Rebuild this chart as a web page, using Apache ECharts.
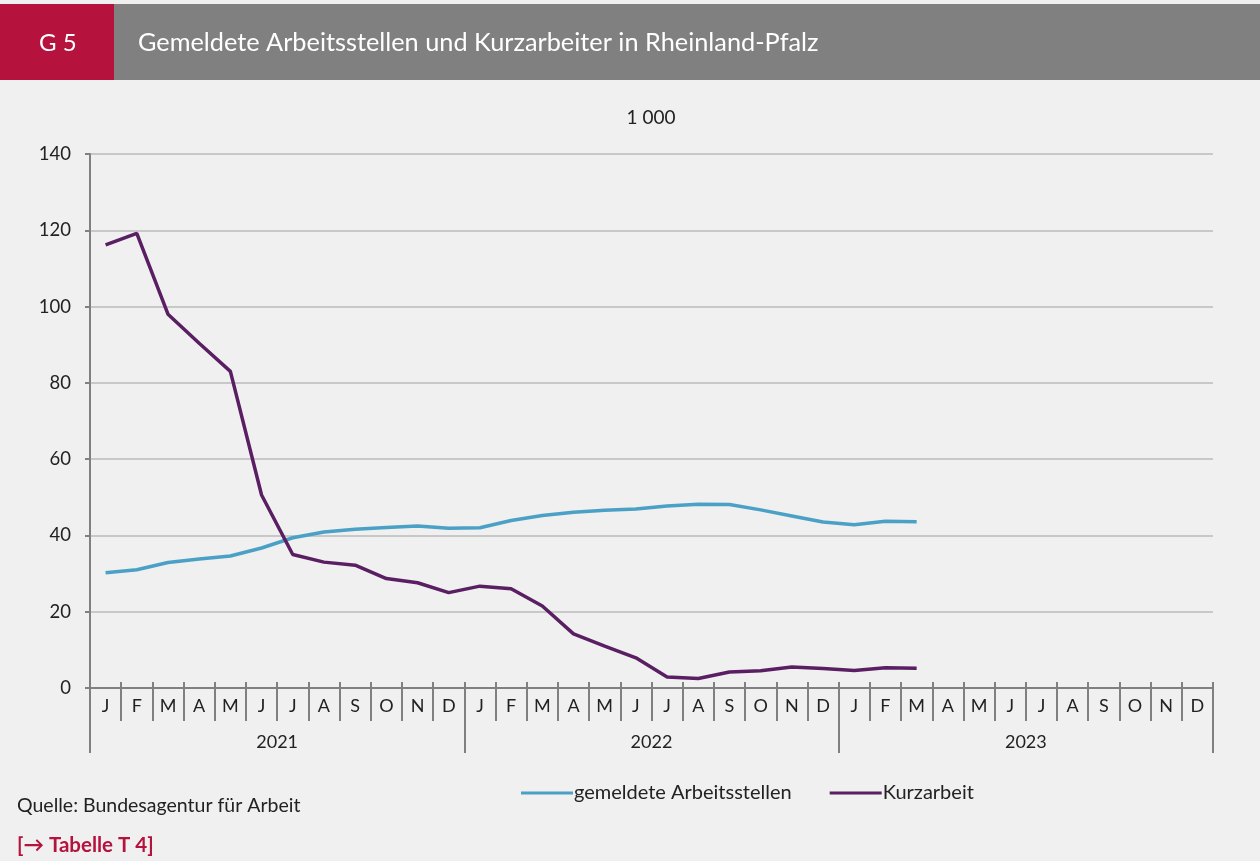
<!DOCTYPE html>
<html>
<head>
<meta charset="utf-8">
<script src="https://cdn.jsdelivr.net/npm/echarts@6/dist/echarts.min.js"></script>
<style>
html,body{margin:0;padding:0;background:#eff0ef;}
#c{width:1260px;height:861px;}
</style>
</head>
<body>
<div id="c"></div>
<script>
const months = ['J','F','M','A','M','J','J','A','S','O','N','D',
                'J','F','M','A','M','J','J','A','S','O','N','D',
                'J','F','M','A','M','J','J','A','S','O','N','D'];
const years = ['2021','2022','2023'];
const arbeitsstellen = [30.2,31.0,32.9,33.8,34.6,36.7,39.4,40.9,41.6,42.1,42.5,41.9,
                        42.0,43.9,45.2,46.1,46.6,46.9,47.7,48.2,48.1,46.7,45.1,43.5,
                        42.8,43.7,43.6];
const kurzarbeit = [116.2,119.2,98.0,90.4,83.0,50.6,35.0,33.0,32.2,28.7,27.6,25.0,
                    26.7,26.0,21.5,14.2,11.0,7.9,2.9,2.5,4.2,4.5,5.5,5.1,
                    4.6,5.3,5.2];
const yTicks = {min:0, max:140, interval:20};

const chart = echarts.init(document.getElementById('c'));
const font = 'Lato';
const axisGray = '#808080';
chart.setOption({
  backgroundColor:'#eff0ef',
  textStyle:{fontFamily:font},
  animation:false,
  graphic:[
    {type:'rect', shape:{x:0,y:4,width:114,height:76}, style:{fill:'#b5123e'}},
    {type:'rect', shape:{x:114,y:4,width:1146,height:76}, style:{fill:'#808080'}},
    {type:'text', x:39, y:43, style:{text:'G 5', fill:'#fff', font:'24px Lato', verticalAlign:'middle'}},
    {type:'text', x:138, y:43, style:{text:'Gemeldete Arbeitsstellen und Kurzarbeiter in Rheinland-Pfalz', fill:'#fff', font:'25.3px Lato', verticalAlign:'middle'}},
    {type:'text', x:651, y:118, style:{text:'1 000', fill:'#222', font:'19px Lato', align:'center', verticalAlign:'middle'}},
    {type:'text', x:17, y:806, style:{text:'Quelle: Bundesagentur für Arbeit', fill:'#222', font:'19.5px Lato', verticalAlign:'middle'}},
    {type:'text', x:17, y:845, style:{text:'[→ Tabelle T 4]', fill:'#b5123e', font:'bold 20.5px Lato', verticalAlign:'middle'}}
  ],
  legend:{
    left:516, top:778, itemWidth:52, itemHeight:3, itemGap:38, icon:'rect',
    textStyle:{fontSize:20, color:'#222', fontFamily:font, padding:[0,0,0,-4]},
    data:['gemeldete Arbeitsstellen','Kurzarbeit']
  },
  grid:{left:90, right:47, top:154, bottom:173},
  xAxis:[
    {type:'category', data:months, boundaryGap:true, position:'bottom',
     axisLine:{show:true, lineStyle:{color:axisGray, width:2}},
     axisTick:{show:true, interval:0, length:33, lineStyle:{color:axisGray, width:2}},
     axisLabel:{interval:0, fontSize:18, color:'#222', margin:9, fontFamily:font}},
    {type:'category', data:months, boundaryGap:true, position:'bottom',
     axisLine:{show:false},
     axisTick:{show:true, inside:true, interval:0, length:6, lineStyle:{color:axisGray, width:2}},
     axisLabel:{show:false}},
    {type:'category', data:years, boundaryGap:true, position:'bottom',
     axisLine:{show:false},
     axisTick:{show:true, interval:0, length:65, lineStyle:{color:axisGray, width:2}},
     axisLabel:{interval:0, fontSize:18, color:'#222', margin:45, fontFamily:font}}
  ],
  yAxis:{
    type:'value', min:yTicks.min, max:yTicks.max, interval:yTicks.interval,
    axisLine:{show:true, lineStyle:{color:axisGray, width:2}},
    axisTick:{show:true, length:5, lineStyle:{color:axisGray, width:2}},
    axisLabel:{fontSize:18.5, color:'#222', margin:19, fontFamily:font},
    splitLine:{lineStyle:{color:'#c8c8c8', width:2}}
  },
  series:[
    {name:'gemeldete Arbeitsstellen', type:'line', data:arbeitsstellen, xAxisIndex:0,
     showSymbol:false, symbol:'none', lineStyle:{width:3.5, color:'#4ba0c6'}, itemStyle:{color:'#4ba0c6'}, z:3},
    {name:'Kurzarbeit', type:'line', data:kurzarbeit, xAxisIndex:0,
     showSymbol:false, symbol:'none', lineStyle:{width:3.5, color:'#5a1f63'}, itemStyle:{color:'#5a1f63'}, z:4}
  ]
});
</script>
</body>
</html>
